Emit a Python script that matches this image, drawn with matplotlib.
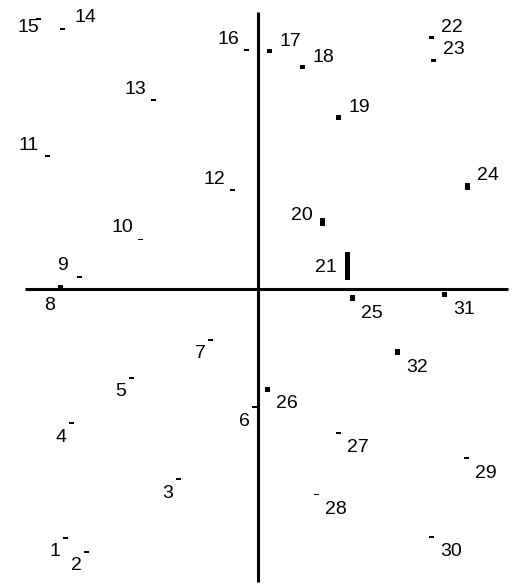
"""Ordination plot of 32 sites: marks sized by weight, numbered labels."""

import matplotlib

matplotlib.use("Agg")
import matplotlib.pyplot as plt

# site numbers, coordinates on the two axes, and weight (mark height)
site_ids = list(range(1, 33))
axis1 = [-1.93, -1.72, -0.80, -1.87, -1.27, -0.04, -0.48, -1.98,
         -1.78, -1.18, -2.11, -0.26, -1.05, -1.96, -2.20, -0.12,
         0.11, 0.44, 0.80, 0.64, 0.89, 1.73, 1.75, 2.09,
         0.94, 0.09, 0.80, 0.58, 2.08, 1.73, 1.86, 1.39]
axis2 = [-2.49, -2.63, -1.90, -1.34, -0.89, -1.18, -0.51, 0.02,
         0.12, 0.50, 1.33, 0.99, 1.89, 2.60, 2.70, 2.39,
         2.38, 2.22, 1.72, 0.67, 0.23, 2.52, 2.29, 1.03,
         -0.09, -1.00, -1.44, -2.05, -1.69, -2.48, -0.05, -0.63]
weight = [2, 2, 2, 2, 2, 2, 2, 4,
          2, 1, 1.5, 2, 2, 2, 2, 2,
          4, 4, 5, 8, 28, 3, 3, 7,
          6, 5, 2, 1, 2, 2, 5, 6]

MARK_W = 0.05
W_SCALE = 0.01

# label offsets in pixels (dx right, dy up) per quadrant, plus a few exceptions
quad_offset = {
    (False, False): (-10, -14),
    (False, True): (-18, 11),
    (True, True): (21, 10),
    (True, False): (20, -15),
}
special_offset = {
    8: (-10, -18),
    14: (23, 12),
    15: (-10, -9),
    20: (-20, 7),
    21: (-21, -1),
}

fig = plt.figure(figsize=(5.12, 5.85), dpi=100)
ax = fig.add_axes([0, 0, 1, 1])
ax.set_xlim(-2.58, 2.54)
ax.set_ylim(-2.96, 2.89)
ax.axis("off")

# the two axes through the origin
ax.plot([-2.33, 2.50], [0, 0], color="black", lw=2.2, solid_capstyle="butt")
ax.plot([0, 0], [-2.93, 2.77], color="black", lw=2.2, solid_capstyle="butt")

heights = [w * W_SCALE for w in weight]
bottoms = [y - h / 2 for y, h in zip(axis2, heights)]
ax.bar(axis1, heights, width=MARK_W, bottom=bottoms, color="black",
       linewidth=0)

for sid, x, y in zip(site_ids, axis1, axis2):
    off = special_offset.get(sid, quad_offset[(x >= 0, y >= 0)])
    ax.annotate(str(sid), xy=(x, y), xytext=off, textcoords="offset pixels",
                ha="center", va="center", fontsize=14,
                family=["Liberation Sans", "DejaVu Sans"])

fig.savefig("out.png", dpi=100)
